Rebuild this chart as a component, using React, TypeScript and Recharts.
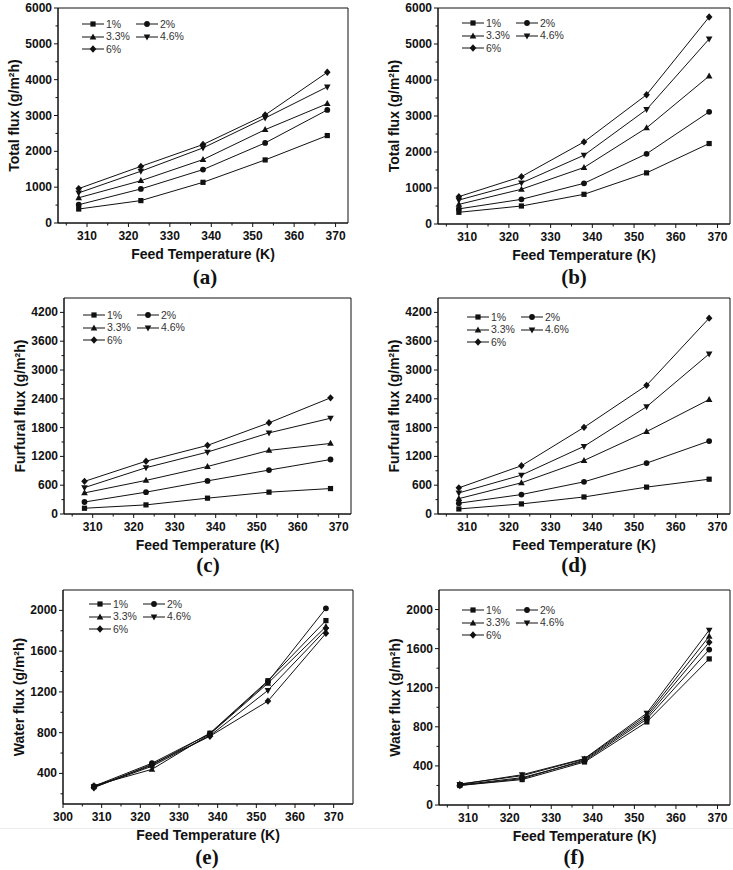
import React from "react";
import { LineChart, Line, XAxis, YAxis, ReferenceArea, Legend } from "recharts";

// feed temperatures (K) shared by every panel
const temps = [308, 323, 338, 353, 368];
const seriesNames = ["1%", "2%", "3.3%", "4.6%", "6%"];
const markerShapes = ["square", "circle", "up", "down", "diamond"];

// one row per concentration, one value per temperature
const totalFluxA = [
  [390, 625, 1135, 1760, 2440],
  [510, 950, 1490, 2235, 3155],
  [705, 1180, 1770, 2605, 3330],
  [840, 1445, 2095, 2930, 3800],
  [960, 1580, 2190, 3015, 4205],
];
const totalFluxB = [
  [325, 500, 825, 1420, 2235],
  [420, 685, 1130, 1950, 3115],
  [545, 965, 1570, 2670, 4110],
  [665, 1140, 1910, 3180, 5140],
  [760, 1315, 2280, 3590, 5750],
];
const furfuralFluxC = [
  [120, 190, 330, 455, 530],
  [250, 455, 690, 915, 1135],
  [440, 700, 990, 1325, 1470],
  [550, 965, 1290, 1690, 1995],
  [680, 1100, 1430, 1900, 2420],
];
const furfuralFluxD = [
  [105, 210, 355, 560, 725],
  [225, 405, 670, 1060, 1520],
  [320, 650, 1115, 1715, 2385],
  [440, 810, 1410, 2235, 3335],
  [545, 1005, 1805, 2680, 4080],
];
const waterFluxE = [
  [270, 480, 795, 1310, 1900],
  [275, 500, 790, 1300, 2020],
  [280, 440, 785, 1285, 1840],
  [265, 470, 770, 1215, 1810],
  [260, 490, 765, 1110, 1775],
];
const waterFluxF = [
  [200, 260, 440, 850, 1495],
  [205, 280, 450, 880, 1590],
  [215, 300, 470, 920, 1725],
  [210, 310, 475, 940, 1790],
  [200, 270, 460, 900, 1665],
];

// tick labels
const xMajor = [310, 320, 330, 340, 350, 360, 370];
const xMinor = [305, 315, 325, 335, 345, 355, 365];
const xMajorWide = [300, 310, 320, 330, 340, 350, 360, 370];
const xMinorWide = [305, 315, 325, 335, 345, 355, 365];
const yMajorTotal = [0, 1000, 2000, 3000, 4000, 5000, 6000];
const yMinorTotal = [500, 1500, 2500, 3500, 4500, 5500];
const yMajorFurfural = [0, 600, 1200, 1800, 2400, 3000, 3600, 4200];
const yMinorFurfural = [300, 900, 1500, 2100, 2700, 3300, 3900];
const yMajorWaterE = [400, 800, 1200, 1600, 2000];
const yMinorWaterE = [200, 600, 1000, 1400, 1800];
const yMajorWaterF = [0, 400, 800, 1200, 1600, 2000];
const yMinorWaterF = [200, 600, 1000, 1400, 1800];

const FONT = '"Liberation Sans", Arial, sans-serif';
const INK = "#111";
const TICK_SIZE = 4;
const TICK_MARGIN = 2;

function Marker({ shape, cx, cy }: { shape: string; cx: number; cy: number }) {
  if (cx == null || cy == null) return null;
  if (shape === "square")
    return <rect x={cx - 2.6} y={cy - 2.6} width={5.2} height={5.2} fill={INK} />;
  if (shape === "circle") return <circle cx={cx} cy={cy} r={2.9} fill={INK} />;
  if (shape === "up")
    return (
      <polygon
        points={`${cx},${cy - 3.6} ${cx - 3.3},${cy + 2.4} ${cx + 3.3},${cy + 2.4}`}
        fill={INK}
      />
    );
  if (shape === "down")
    return (
      <polygon
        points={`${cx},${cy + 3.6} ${cx - 3.3},${cy - 2.4} ${cx + 3.3},${cy - 2.4}`}
        fill={INK}
      />
    );
  return (
    <polygon
      points={`${cx},${cy - 3.7} ${cx + 3.3},${cy} ${cx},${cy + 3.7} ${cx - 3.3},${cy}`}
      fill={INK}
    />
  );
}

function BottomTick(props: any) {
  const { x, y, payload, majors } = props;
  const y0 = y - TICK_SIZE - TICK_MARGIN;
  const major = majors.includes(payload.value);
  return (
    <g>
      <line x1={x} x2={x} y1={y0} y2={y0 + (major ? 4 : 2.5)} stroke={INK} />
      {major && (
        <text
          x={x}
          y={y0 + 13}
          textAnchor="middle"
          dominantBaseline="central"
          fontFamily={FONT}
          fontWeight="bold"
          fontSize={12}
          fill={INK}
        >
          {payload.value}
        </text>
      )}
    </g>
  );
}

function LeftTick(props: any) {
  const { x, y, payload, majors } = props;
  const x0 = x + TICK_SIZE + TICK_MARGIN;
  const major = majors.includes(payload.value);
  return (
    <g>
      <line x1={x0} x2={x0 - (major ? 4 : 2.5)} y1={y} y2={y} stroke={INK} />
      {major && (
        <text
          x={x0 - 6}
          y={y}
          textAnchor="end"
          dominantBaseline="central"
          fontFamily={FONT}
          fontWeight="bold"
          fontSize={12}
          fill={INK}
        >
          {payload.value}
        </text>
      )}
    </g>
  );
}

function LegendBox() {
  return (
    <div
      style={{
        display: "grid",
        gridTemplateColumns: "54px auto",
        fontFamily: FONT,
        fontSize: 10.5,
        color: "#333",
      }}
    >
      {seriesNames.map((n, k) => (
        <div key={n} style={{ display: "flex", alignItems: "center", height: 12.5 }}>
          <svg width={22} height={10} style={{ display: "block" }}>
            <line x1={0} x2={22} y1={5} y2={5} stroke={INK} />
            <Marker shape={markerShapes[k]} cx={11} cy={5} />
          </svg>
          <span style={{ marginLeft: 2, lineHeight: "12.5px" }}>{n}</span>
        </div>
      ))}
    </div>
  );
}

type PanelProps = {
  values: number[][];
  yTitle: string;
  letter: string;
  xDomain: [number, number];
  xMajors: number[];
  xMinors: number[];
  yDomain: [number, number];
  yMajors: number[];
  yMinors: number[];
  box: [number, number, number, number];
  chartLeft: number;
  legendAt: [number, number];
  letterAt: [number, number];
};

function Panel(p: PanelProps) {
  const [pl, pt, pr, pb] = p.box;
  const top = pt - 8;
  const width = pr - p.chartLeft + 3;
  const height = pb - pt + 54;
  const yWidth = pl - p.chartLeft;
  const rows = temps.map((t, i) => {
    const row: Record<string, number> = { t };
    p.values.forEach((s, k) => (row["s" + k] = s[i]));
    return row;
  });
  const xTicks = [...p.xMajors, ...p.xMinors].sort((a, b) => a - b);
  const yTicks = [...p.yMajors, ...p.yMinors].sort((a, b) => a - b);

  return (
    <>
      <div style={{ position: "absolute", left: p.chartLeft, top }}>
        <LineChart
          width={width}
          height={height}
          data={rows}
          margin={{ top: 8, right: 3, left: 0, bottom: 0 }}
        >
          <XAxis
            dataKey="t"
            type="number"
            domain={p.xDomain}
            allowDataOverflow
            ticks={xTicks}
            interval={0}
            height={46}
            tickSize={TICK_SIZE}
            tickMargin={TICK_MARGIN}
            tickLine={false}
            axisLine={{ stroke: INK }}
            tick={(tp: any) => <BottomTick {...tp} majors={p.xMajors} />}
            label={{
              value: "Feed Temperature (K)",
              position: "insideBottom",
              offset: 10,
              fill: INK,
              fontSize: 14,
              fontWeight: "bold",
              fontFamily: FONT,
            }}
          />
          <YAxis
            type="number"
            domain={p.yDomain}
            allowDataOverflow
            ticks={yTicks}
            interval={0}
            width={yWidth}
            tickSize={TICK_SIZE}
            tickMargin={TICK_MARGIN}
            tickLine={false}
            axisLine={{ stroke: INK }}
            tick={(tp: any) => <LeftTick {...tp} majors={p.yMajors} />}
            label={{
              value: p.yTitle,
              angle: -90,
              position: "insideLeft",
              offset: yWidth - 44,
              fill: INK,
              fontSize: 14,
              fontWeight: "bold",
              fontFamily: FONT,
              style: { textAnchor: "middle" },
            }}
          />
          <ReferenceArea
            x1={p.xDomain[0]}
            x2={p.xDomain[1]}
            y1={p.yDomain[0]}
            y2={p.yDomain[1]}
            fill="none"
            stroke={INK}
            strokeWidth={1}
            ifOverflow="visible"
          />
          {p.values.map((_, k) => (
            <Line
              key={k}
              type="linear"
              dataKey={"s" + k}
              name={seriesNames[k]}
              stroke={INK}
              strokeWidth={1}
              isAnimationActive={false}
              activeDot={false}
              dot={(dp: any) => (
                <Marker key={`${k}-${dp.index}`} shape={markerShapes[k]} cx={dp.cx} cy={dp.cy} />
              )}
            />
          ))}
          <Legend
            layout="vertical"
            align="center"
            verticalAlign="middle"
            wrapperStyle={{
              left: yWidth + p.legendAt[0],
              top: 8 + p.legendAt[1] - 6.25,
              width: "auto",
            }}
            content={() => <LegendBox />}
          />
        </LineChart>
      </div>
      <div
        style={{
          position: "absolute",
          left: p.letterAt[0] - 40,
          top: p.letterAt[1] - 11.6,
          width: 80,
          textAlign: "center",
          fontFamily: '"Liberation Serif", "Times New Roman", serif',
          fontWeight: "bold",
          fontSize: 21,
          lineHeight: "normal",
          color: INK,
        }}
      >
        {p.letter}
      </div>
    </>
  );
}

export default function App() {
  return (
    <div
      style={{
        position: "absolute",
        left: 0,
        top: 0,
        width: 733,
        height: 870,
        background: "#fff",
      }}
    >
      <Panel
        values={totalFluxA}
        yTitle="Total flux (g/m²h)"
        letter="(a)"
        xDomain={[303, 373]}
        xMajors={xMajor}
        xMinors={xMinor}
        yDomain={[0, 6000]}
        yMajors={yMajorTotal}
        yMinors={yMinorTotal}
        box={[58, 8, 348, 223]}
        chartLeft={0}
        legendAt={[24, 16]}
        letterAt={[205, 277]}
      />
      <Panel
        values={totalFluxB}
        yTitle="Total flux (g/m²h)"
        letter="(b)"
        xDomain={[303, 373]}
        xMajors={xMajor}
        xMinors={xMinor}
        yDomain={[0, 6000]}
        yMajors={yMajorTotal}
        yMinors={yMinorTotal}
        box={[438, 8, 730, 224]}
        chartLeft={366}
        legendAt={[24, 15]}
        letterAt={[574, 277]}
      />
      <Panel
        values={furfuralFluxC}
        yTitle="Furfural flux (g/m²h)"
        letter="(c)"
        xDomain={[303, 373]}
        xMajors={xMajor}
        xMinors={xMinor}
        yDomain={[0, 4500]}
        yMajors={yMajorFurfural}
        yMinors={yMinorFurfural}
        box={[64, 298, 351, 514]}
        chartLeft={0}
        legendAt={[19, 17]}
        letterAt={[208, 565]}
      />
      <Panel
        values={furfuralFluxD}
        yTitle="Furfural flux (g/m²h)"
        letter="(d)"
        xDomain={[303, 373]}
        xMajors={xMajor}
        xMinors={xMinor}
        yDomain={[0, 4500]}
        yMajors={yMajorFurfural}
        yMinors={yMinorFurfural}
        box={[438, 298, 730, 514]}
        chartLeft={366}
        legendAt={[29, 19]}
        letterAt={[574, 565]}
      />
      <div
        style={{
          position: "absolute",
          left: 0,
          top: 828,
          width: 733,
          height: 1,
          background: "#ececec",
        }}
      />
      <Panel
        values={waterFluxE}
        yTitle="Water flux (g/m²h)"
        letter="(e)"
        xDomain={[300, 375]}
        xMajors={xMajorWide}
        xMinors={xMinorWide}
        yDomain={[100, 2200]}
        yMajors={yMajorWaterE}
        yMinors={yMinorWaterE}
        box={[63, 590, 353, 804]}
        chartLeft={0}
        legendAt={[26, 14]}
        letterAt={[207, 857]}
      />
      <Panel
        values={waterFluxF}
        yTitle="Water flux (g/m²h)"
        letter="(f)"
        xDomain={[303, 373]}
        xMajors={xMajor}
        xMinors={xMinor}
        yDomain={[0, 2200]}
        yMajors={yMajorWaterF}
        yMinors={yMinorWaterF}
        box={[439, 590, 730, 805]}
        chartLeft={366}
        legendAt={[23, 20]}
        letterAt={[574, 857]}
      />
    </div>
  );
}
